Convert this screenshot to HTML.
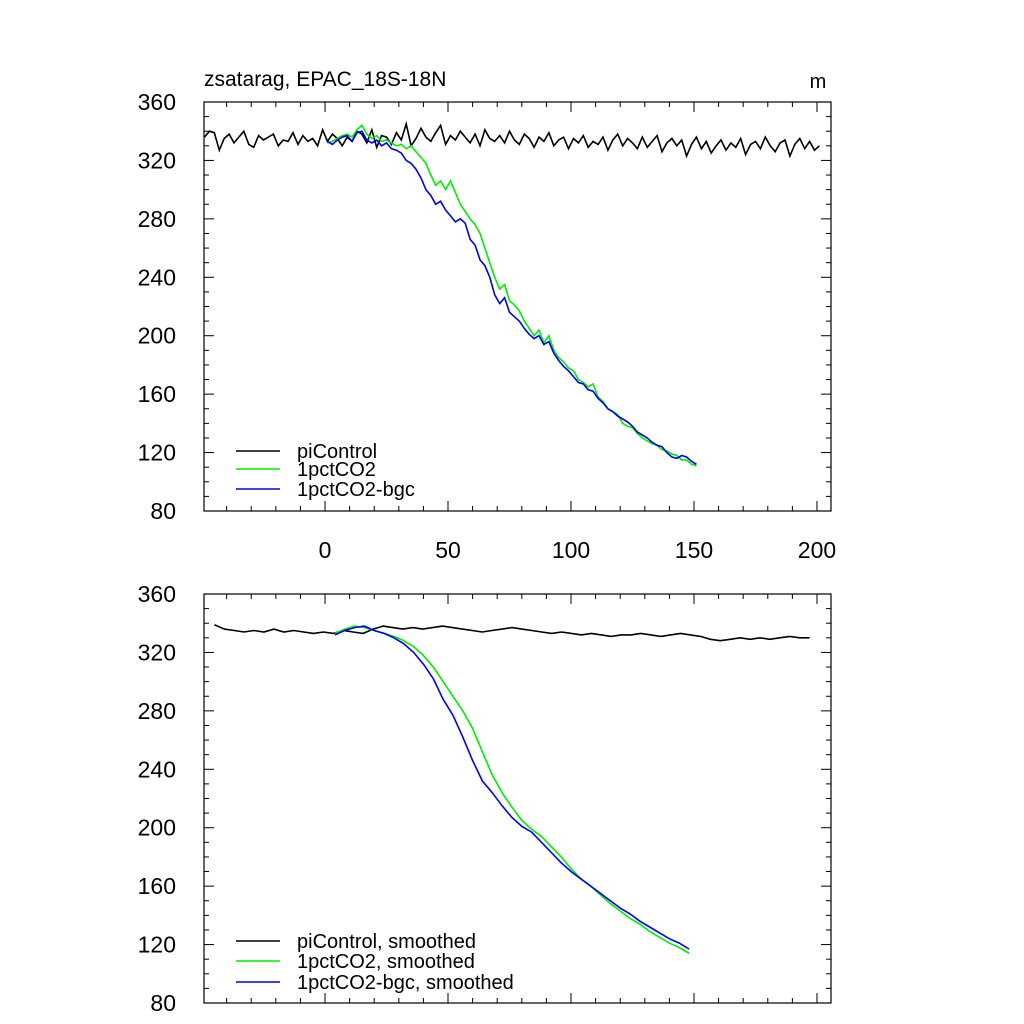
<!DOCTYPE html>
<html><head><meta charset="utf-8"><style>
body{margin:0;background:#fff}
svg{display:block}
text{font-family:"Liberation Sans",sans-serif;fill:#000}
</style></head><body>
<svg id="c" width="1024" height="1024" viewBox="0 0 1024 1024"></svg>
<script>
const piRaw=[336,340,339,327,335,338,332,336,340,331,329,337,334,336,338,330,334,333,339,331,337,333,335,330,341,333,338,335,330,336,333,340,338,332,341,329,337,336,331,339,334,345,330,335,342,336,333,339,344,331,337,334,340,336,332,338,330,341,335,333,337,332,340,334,331,338,335,329,336,333,339,330,334,336,328,335,332,337,329,333,331,336,327,334,338,330,335,332,328,336,329,333,337,326,332,335,330,334,323,331,336,328,333,325,330,334,327,332,329,335,324,331,333,328,336,330,326,332,334,323,331,335,328,333,327,330];
const co2Raw=[332,333,335,337,338,336,341,344,338,335,337,333,334,332,330,331,328,330,326,322,318,310,303,306,300,306,298,290,285,280,276,270,260,250,240,232,235,224,221,217,210,205,200,204,195,200,190,185,182,178,176,170,168,165,167,158,155,150,148,146,140,138,137,133,130,128,126,125,122,121,119,118,115,115,112,111];
const bgcRaw=[333,331,334,336,337,333,339,340,334,332,334,330,332,328,327,325,320,318,314,308,300,296,290,292,286,282,278,280,277,266,262,252,248,240,228,222,226,216,213,210,205,201,198,200,194,196,188,183,179,176,172,168,167,163,162,157,154,150,148,145,143,141,138,134,132,130,127,125,124,120,117,116,118,117,114,112];
const piSm=[339,336,335,334,335,334,336,334,335,334,333,334,333,335,334,333,336,338,337,336,337,336,337,338,337,336,335,334,335,336,337,336,335,334,333,334,333,332,333,332,331,332,332,333,332,331,332,333,332,331,329,328,329,330,329,330,329,330,331,330,330];
const co2Sm=[333,336,338,337,335,333,331,328,324,318,310,300,290,280,268,252,236,224,214,205,199,194,187,180,172,165,160,154,148,143,138,134,129,125,121,118,114];
const bgcSm=[332,335,337,338,335,333,330,326,320,312,302,288,277,262,246,232,224,215,207,201,197,190,183,176,170,165,160,155,150,145,141,136,132,128,124,121,117];
const yTicks=[80,120,160,200,240,280,320,360];
const xTicks=[0,50,100,150,200];
const xRange=[-49.2,205.7];

const svg=document.getElementById('c');
const NS='http://www.w3.org/2000/svg';
function mk(t,a,p){const e=document.createElementNS(NS,t);for(const k in a)e.setAttribute(k,a[k]);(p||svg).appendChild(e);return e;}
const L=204,R=831;
function xs(v){return L+(v-xRange[0])/(xRange[1]-xRange[0])*(R-L);}
function panel(top,bot,name,series,legend,labels){
  const g=mk('g',{});
  
  
  const ys=v=>bot-(v-80)/280*(bot-top);
  for(const s of series){
    const n=s.d.length;
    const pts=s.d.map((v,i)=>xs(s.x0+i*(s.x1-s.x0)/(n-1)).toFixed(1)+','+ys(v).toFixed(1)).join(' ');
    const pl=mk('polyline',{points:pts,fill:'none',stroke:s.c,'stroke-width':1.6},g);
    
    
  }
  mk('rect',{x:L,y:top,width:R-L,height:bot-top,fill:'none',stroke:'#000','stroke-width':1.2},g);
  for(let v=80;v<=360;v+=10){const y=ys(v),len=v%40===0?10:5;
    mk('line',{x1:L,x2:L+len,y1:y,y2:y,stroke:'#000'},g);mk('line',{x1:R,x2:R-len,y1:y,y2:y,stroke:'#000'},g);}
  for(let v=-40;v<=200;v+=10){const x=xs(v),len=v%50===0?10:5;
    mk('line',{x1:x,x2:x,y1:bot,y2:bot-len,stroke:'#000'},g);mk('line',{x1:x,x2:x,y1:top,y2:top+len,stroke:'#000'},g);}
  for(const v of yTicks){const t=mk('text',{x:L-28,y:ys(v)+8,'text-anchor':'end','font-size':23},g);t.textContent=v;
    }
  if(labels)for(const v of xTicks){const t=mk('text',{x:xs(v),y:bot+47,'text-anchor':'middle','font-size':23},g);t.textContent=v;
    }
  legend.forEach((l,i)=>{const y=l.y;
    const lg=mk('g',{},g);
    mk('line',{x1:236,x2:280,y1:y,y2:y,stroke:l.c,'stroke-width':1.6},lg);
    const t=mk('text',{x:297,y:y+7,'font-size':20},lg);t.textContent=l.t;});
}
panel(102,511,'top-panel',[
  {d:piRaw,x0:-49,x1:201,c:'#000',n:'piControl-line'},
  {d:co2Raw,x0:1,x1:151,c:'#00ee00',n:'1pctCO2-line'},
  {d:bgcRaw,x0:1,x1:151,c:'#0000ee',n:'1pctCO2-bgc-line'}],
  [{y:451,c:'#000',t:'piControl'},{y:469,c:'#00ee00',t:'1pctCO2'},{y:489,c:'#0000ee',t:'1pctCO2-bgc'}],true);
panel(594,1003,'bottom-panel',[
  {d:piSm,x0:-45,x1:197,c:'#000',n:'piControl-smoothed-line'},
  {d:co2Sm,x0:4,x1:148,c:'#00ee00',n:'1pctCO2-smoothed-line'},
  {d:bgcSm,x0:4,x1:148,c:'#0000ee',n:'1pctCO2-bgc-smoothed-line'}],
  [{y:941,c:'#000',t:'piControl, smoothed'},{y:961,c:'#00ee00',t:'1pctCO2, smoothed'},{y:982,c:'#0000ee',t:'1pctCO2-bgc, smoothed'}],false);
let t=mk('text',{x:204,y:86,'font-size':21});t.textContent='zsatarag, EPAC_18S-18N';

t=mk('text',{x:818,y:88,'font-size':20,'text-anchor':'middle'});t.textContent='m';

</script>
</body></html>
